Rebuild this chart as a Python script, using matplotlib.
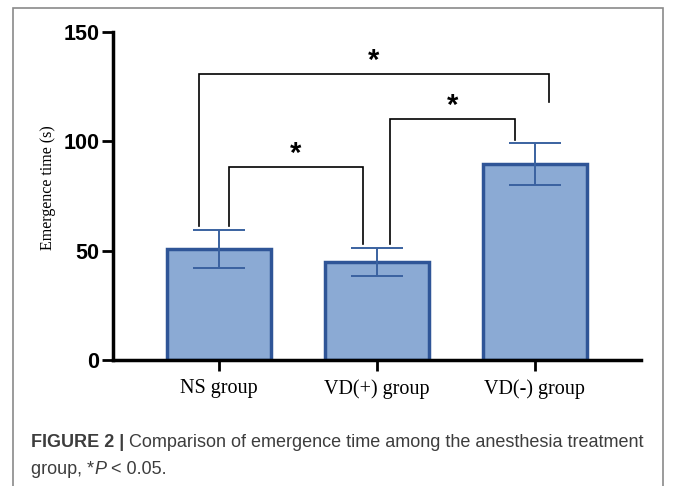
import matplotlib.pyplot as plt
from matplotlib.patches import Rectangle
from matplotlib import font_manager

groups = ['NS group', 'VD(+) group', 'VD(-) group']
means = [50.8, 45.0, 89.5]
sds = [8.6, 6.4, 9.6]
yticks = [0, 50, 100, 150]
# brackets: (left group, right group, top height)
brackets = [(0, 1, 88.3), (1, 2, 110.2), (0, 2, 130.8)]

names = {f.name for f in font_manager.fontManager.ttflist}
cap_font = 'Liberation Sans Narrow' if 'Liberation Sans Narrow' in names else 'Liberation Sans'

fig = plt.figure(figsize=(6.73, 4.86), dpi=100)
ax = fig.add_axes([0.168, 0.2593, 0.784, 0.6749])

x = list(range(len(groups)))
ax.bar(x, means, width=0.66, color='#8BAAD4', edgecolor='#2F5597', linewidth=2.5, zorder=2)
ax.errorbar(x, means, yerr=sds, fmt='none', ecolor='#3A62A0', elinewidth=1.4,
            capsize=18.7, capthick=1.4, zorder=3)

# significance brackets
leg_dx = {(0, 1): (0.063, -0.089), (1, 2): (0.082, -0.127), (0, 2): (-0.127, 0.09)}
for i, j, h in brackets:
    dl, dr = leg_dx[(i, j)]
    yl = means[i] + sds[i] + 1.8
    yr = means[j] + sds[j] + 1.5
    if (i, j) == (0, 2):
        yr = 118
    ax.plot([i + dl, i + dl, j + dr, j + dr], [yl, h, h, yr], color='black', lw=1.2,
            solid_joinstyle='miter', zorder=4)
    ax.text((i + dl + j + dr) / 2, h - 0.5, '*', ha='center', va='bottom',
            fontsize=21, fontweight='bold', family='Liberation Sans')

ax.set_xlim(-0.67, 2.67)
ax.set_ylim(0, 150)
ax.set_yticks(yticks)
ax.set_xticks(x)
ax.set_xticklabels(groups, family='Liberation Serif', fontsize=14.5)
for lab in ax.get_yticklabels():
    lab.set_family('Liberation Sans')
    lab.set_fontweight('bold')
    lab.set_fontsize(15.5)
ax.tick_params(axis='y', length=8, width=2, pad=2)
ax.tick_params(axis='x', length=8, width=2, pad=6)
for s in ['top', 'right']:
    ax.spines[s].set_visible(False)
for s in ['left', 'bottom']:
    ax.spines[s].set_linewidth(2.5)
ax.set_ylabel('Emergence time (s)', family='Liberation Serif', fontsize=11.5)
ax.yaxis.set_label_coords(-0.108, 0.525)

# frame around figure
fig.patches.append(Rectangle((13 / 673, -0.05), 650 / 673, 1 - 8 / 486 + 0.05,
                             transform=fig.transFigure, fill=False,
                             edgecolor='#8a8a8a', lw=1.2))


def line_of_text(x0, y0, pieces):
    r = fig.canvas.get_renderer()
    xpos = x0
    for txt, kw in pieces:
        t = fig.text(xpos, y0, txt, color='#3d3d3d', fontsize=13, family=cap_font,
                     va='baseline', **kw)
        bb = t.get_window_extent(renderer=r)
        xpos += bb.width / fig.bbox.width


line_of_text(31 / 673, 1 - 447 / 486, [('FIGURE 2 | ', dict(fontweight='bold')),
                                       ('Comparison of emergence time among the anesthesia treatment', {})])
line_of_text(31 / 673, 1 - 474 / 486, [('group, *', {}), ('P', dict(style='italic')),
                                       (' < 0.05.', {})])

fig.savefig('out.png', dpi=100)
